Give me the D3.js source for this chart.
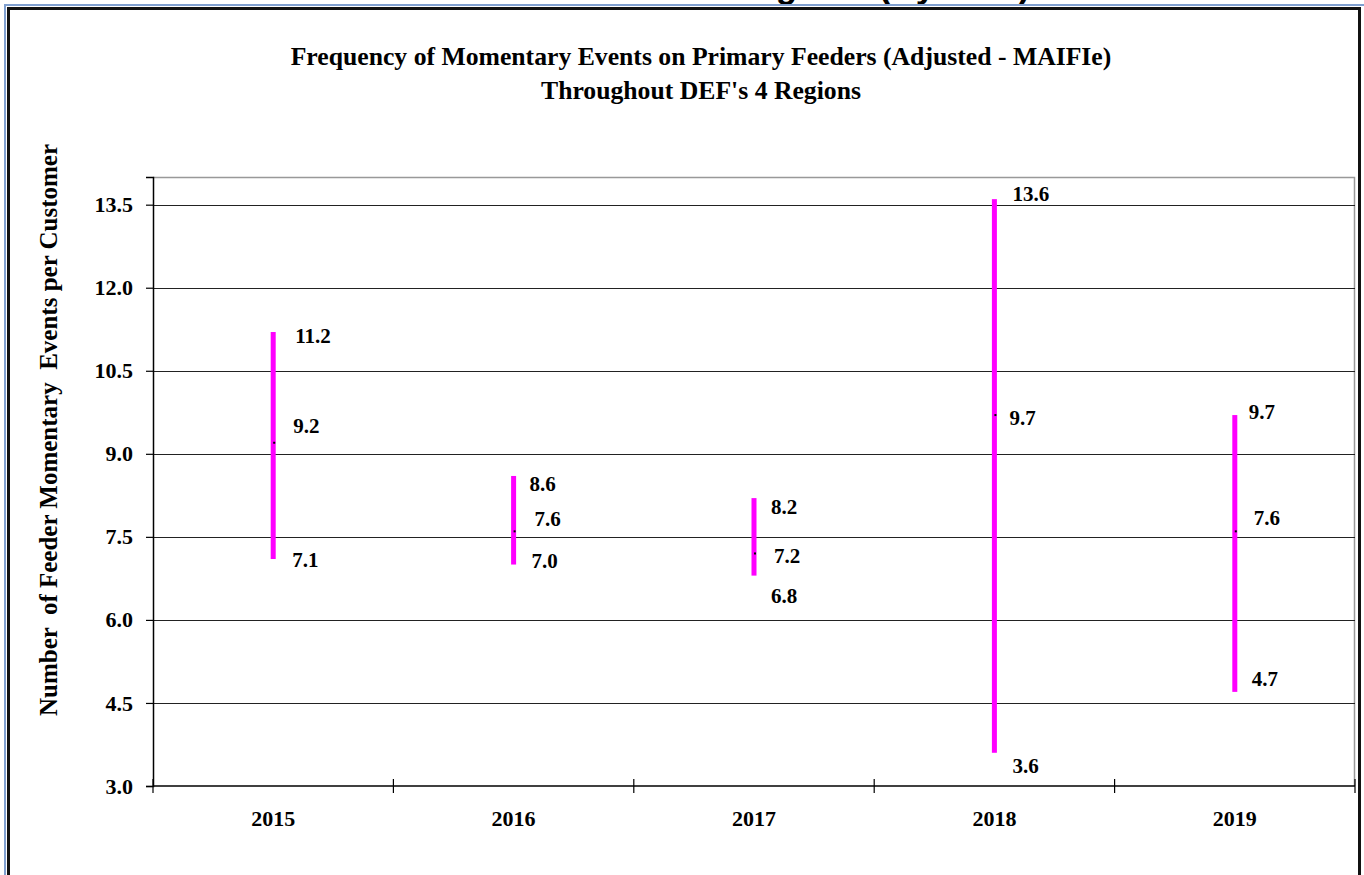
<!DOCTYPE html>
<html>
<head>
<meta charset="utf-8">
<script src="https://cdn.jsdelivr.net/npm/d3@7"></script>
<style>
    html, body { margin: 0; padding: 0; background: #ffffff; }
    svg { display: block; }
    text { font-family: 'Liberation Serif', 'Times New Roman', serif; font-weight: bold; fill: #000; }
</style>
</head>
<body>
<svg id="chart"></svg>
<script>
// Chart data
const years = ['2015', '2016', '2017', '2018', '2019'];
const highValues = [11.2, 8.6, 8.2, 13.6, 9.7];
const meanValues = [9.2, 7.6, 7.2, 9.7, 7.6];
const lowValues = [7.1, 7.0, 6.8, 3.6, 4.7];
const yTicks = [3.0, 4.5, 6.0, 7.5, 9.0, 10.5, 12.0, 13.5];

// Label nudges in px [dx, dy] for high / mean / low labels (how the original placed them)
const labelNudge = [
    [[22, 4], [20, -17], [19, 1]],
    [[16, 8], [21, -13], [18, -4]],
    [[17, 9], [20, 2], [17, 20]],
    [[18, -5], [15, 3], [18, 13]],
    [[14, -3], [19, -14], [17, -13]]
];

const width = 1364, height = 875;
const margin = {top: 177, right: 9, bottom: 89, left: 153};
const innerWidth = width - margin.left - margin.right;
const innerHeight = height - margin.top - margin.bottom;

const svg = d3.select('#chart')
    .attr('width', width)
    .attr('height', height);

// Frame of the slide: cut-off heading, thin blue line and heavy black line
svg.append('text')
    .attr('x', 1030)
    .attr('y', -2)
    .attr('text-anchor', 'end')
    .style('font-family', "'Liberation Sans', Arial, sans-serif")
    .style('font-size', '35px')
    .text('Regions (By Year)');

svg.append('path')
    .attr('d', `M5,${height} V5 H${width}`)
    .attr('fill', 'none')
    .attr('stroke', '#7f9fcf')
    .attr('stroke-width', 2);
svg.append('path')
    .attr('d', `M8.5,${height} V8.5 H1359.5 V${height}`)
    .attr('fill', 'none')
    .attr('stroke', '#111')
    .attr('stroke-width', 3);

// Title
const title = svg.append('text')
    .attr('text-anchor', 'middle')
    .style('font-size', '25.7px');
title.append('tspan').attr('x', 701).attr('y', 65)
    .text('Frequency of Momentary Events on Primary Feeders (Adjusted - MAIFIe)');
title.append('tspan').attr('x', 701).attr('y', 99)
    .text("Throughout DEF's 4 Regions");

const g = svg.append('g')
    .attr('transform', `translate(${margin.left},${margin.top})`);

// Scales
const x = d3.scaleBand()
    .domain(years)
    .range([0, innerWidth]);

const y = d3.scaleLinear()
    .domain([3, 14])
    .range([innerHeight, 0]);

// Plot border (top and right in grey)
g.append('path')
    .attr('d', `M0,0.5 H${innerWidth - 0.5} V${innerHeight}`)
    .attr('fill', 'none')
    .attr('stroke', '#999')
    .attr('stroke-width', 1.5);

// Horizontal gridlines
g.append('g')
    .selectAll('line')
    .data(yTicks.slice(1))
    .enter()
    .append('line')
    .attr('x1', 0)
    .attr('x2', innerWidth)
    .attr('y1', d => Math.round(y(d)) + 0.5)
    .attr('y2', d => Math.round(y(d)) + 0.5)
    .attr('stroke', '#222')
    .attr('stroke-width', 1.2);

// Y axis
const yAxis = g.append('g')
    .call(d3.axisLeft(y)
        .tickValues(yTicks)
        .tickFormat(d3.format('.1f'))
        .tickSize(7)
        .tickPadding(13));
yAxis.select('.domain').attr('stroke', '#000').attr('stroke-width', 1.5);
yAxis.selectAll('.tick line').attr('stroke', '#000').attr('stroke-width', 1.2);
yAxis.selectAll('.tick text')
    .style('font-size', '22px')
    .style('font-family', "'Liberation Serif', 'Times New Roman', serif")
    .attr('fill', '#000');

// X axis: baseline plus crossing tick marks at category boundaries
g.append('line')
    .attr('x1', 0).attr('x2', innerWidth)
    .attr('y1', innerHeight).attr('y2', innerHeight)
    .attr('stroke', '#000')
    .attr('stroke-width', 1.5);

const boundaries = years.map(d => x(d)).concat([x(years[years.length - 1]) + x.bandwidth()]);
g.append('g')
    .selectAll('line')
    .data(boundaries)
    .enter()
    .append('line')
    .attr('x1', d => d).attr('x2', d => d)
    .attr('y1', innerHeight - 7).attr('y2', innerHeight + 7)
    .attr('stroke', '#000')
    .attr('stroke-width', 1.2);

g.append('g')
    .selectAll('text')
    .data(years)
    .enter()
    .append('text')
    .attr('x', d => x(d) + x.bandwidth() / 2)
    .attr('y', innerHeight + 40)
    .attr('text-anchor', 'middle')
    .style('font-size', '22px')
    .text(d => d);

// Y axis title
svg.append('text')
    .attr('transform', `translate(57,${margin.top + 253}) rotate(-90)`)
    .attr('text-anchor', 'middle')
    .style('font-size', '25px')
    .style('white-space', 'pre')
    .text('Number  of Feeder Momentary  Events per Customer');

// High-low bars
const cx = d => x(d) + x.bandwidth() / 2;

g.append('g')
    .selectAll('rect')
    .data(years)
    .enter()
    .append('rect')
    .attr('x', d => cx(d) - 2.5)
    .attr('width', 5)
    .attr('y', (d, i) => y(highValues[i]))
    .attr('height', (d, i) => y(lowValues[i]) - y(highValues[i]))
    .attr('fill', '#ff00ff');

// Mean markers
g.append('g')
    .selectAll('rect')
    .data(years)
    .enter()
    .append('rect')
    .attr('x', d => cx(d))
    .attr('y', (d, i) => y(meanValues[i]) - 1)
    .attr('width', 2)
    .attr('height', 2)
    .attr('fill', '#000');

// Value labels
const labelRows = [];
years.forEach((d, i) => {
    [highValues[i], meanValues[i], lowValues[i]].forEach((v, k) => {
        labelRows.push({year: d, value: v, nudge: labelNudge[i][k]});
    });
});

g.append('g')
    .selectAll('text')
    .data(labelRows)
    .enter()
    .append('text')
    .attr('x', d => cx(d.year) + d.nudge[0])
    .attr('y', d => y(d.value) + d.nudge[1])
    .attr('dy', '0.35em')
    .style('font-size', '21px')
    .text(d => d3.format('.1f')(d.value));
</script>
</body>
</html>
